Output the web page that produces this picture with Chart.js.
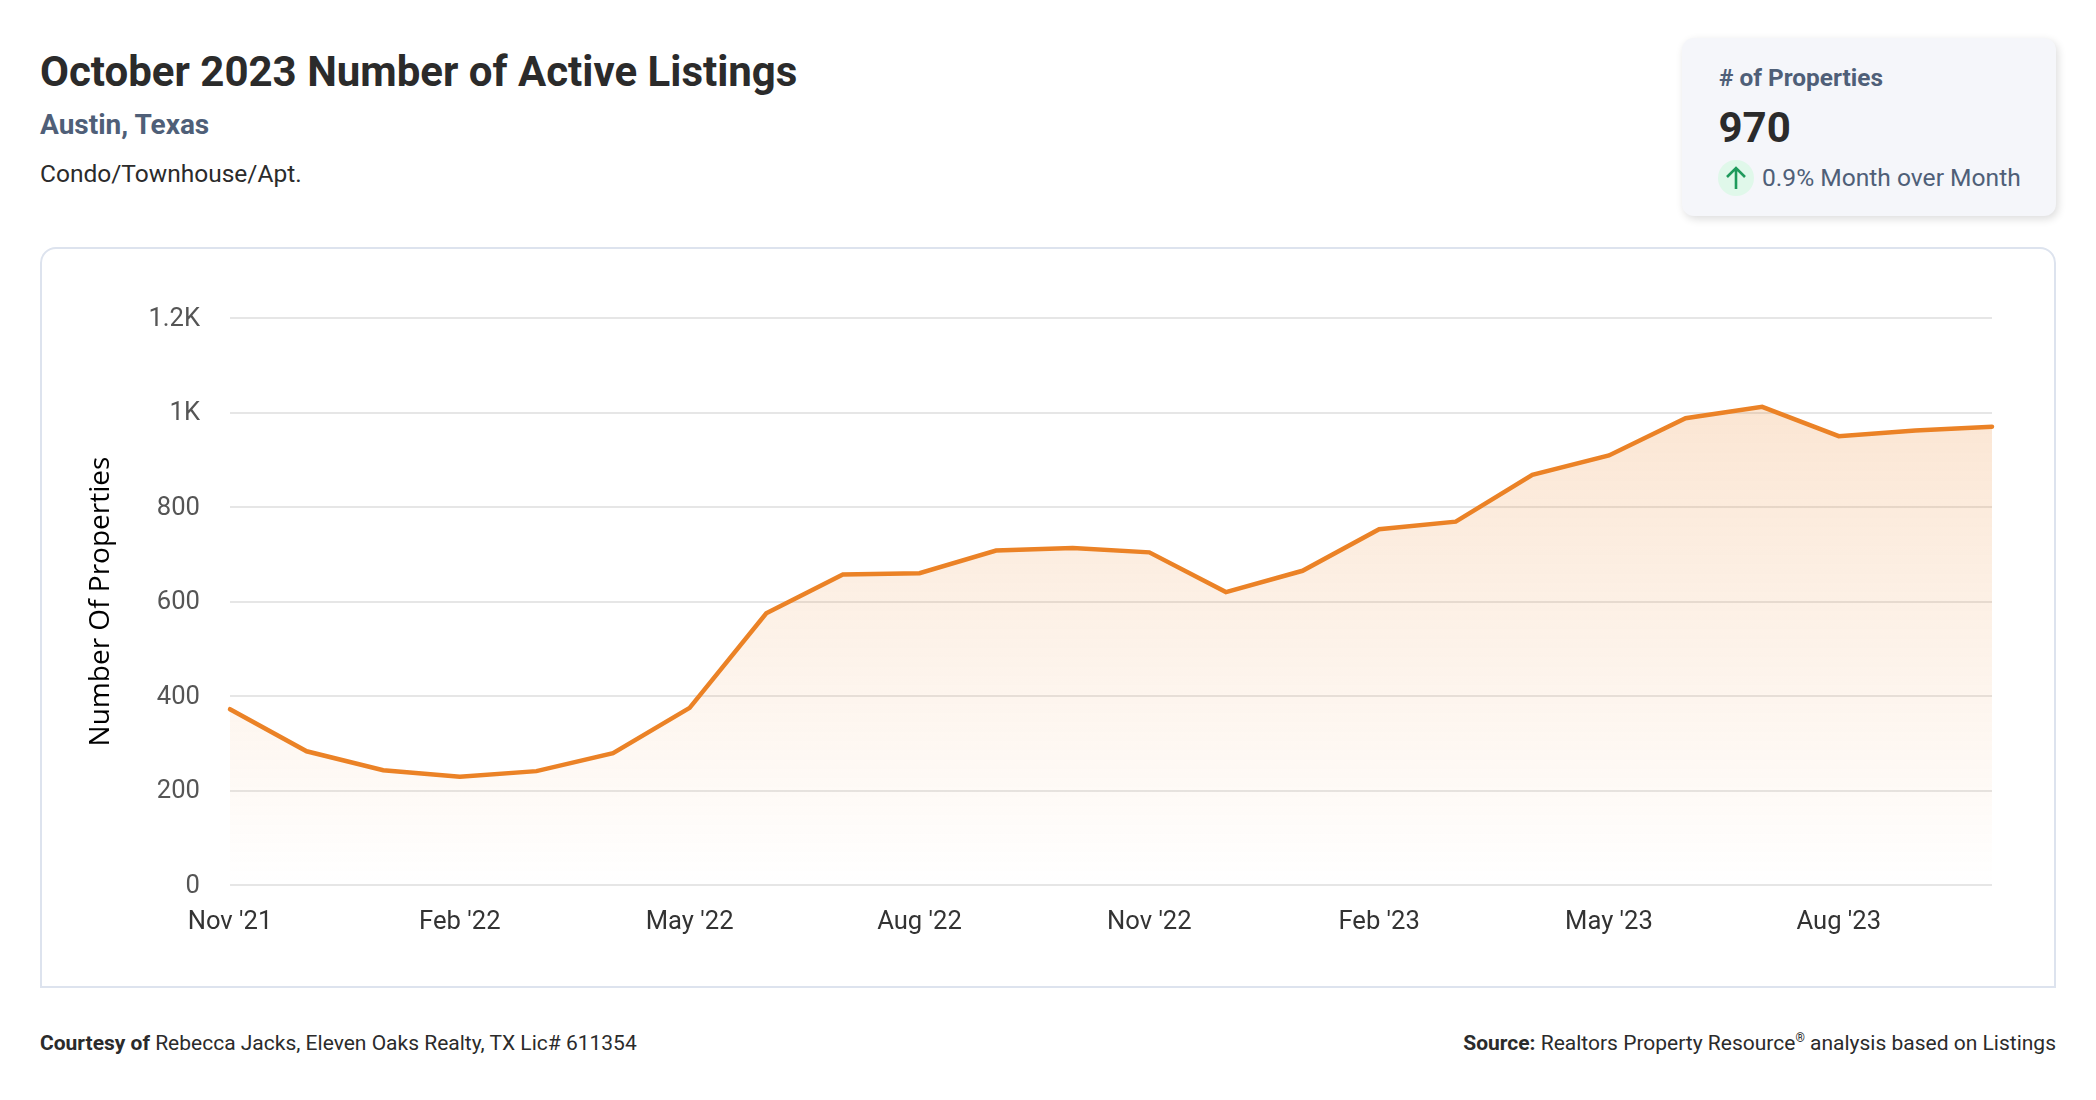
<!DOCTYPE html>
<html>
<head>
<meta charset="utf-8">
<script src="https://cdn.jsdelivr.net/npm/chart.js@4"></script>
<style>
html, body { margin: 0; padding: 0; background: #fff; }
body { width: 2096px; height: 1100px; position: relative; overflow: hidden; font-family: Roboto, sans-serif; color: #2b2b2b; }
.abs { position: absolute; white-space: nowrap; }
#title { left: 40px; top: 46px; font-size: 42px; line-height: 52px; font-weight: 700; }
#place { left: 40px; top: 108px; font-size: 28px; line-height: 34px; font-weight: 700; color: #4f5f78; }
#kind { left: 40px; top: 158px; font-size: 24.5px; line-height: 32px; }
#card { left: 1682px; top: 38px; width: 374px; height: 178px; background: #f5f6fa; border-radius: 12px; box-shadow: 2px 3px 8px rgba(0,0,0,.14); }
#cardLabel { left: 1719px; top: 62px; font-size: 24.4px; line-height: 32px; font-weight: 700; color: #4f5f78; }
#cardValue { left: 1718.5px; top: 103px; font-size: 42px; line-height: 50px; font-weight: 700; }
#cardIcon { left: 1718px; top: 160px; width: 36px; height: 36px; border-radius: 50%; background: #e0f8ea; }
#cardChange { left: 1762px; top: 162px; font-size: 24.6px; line-height: 32px; color: #4f5f78; }
#panel { left: 40px; top: 247px; width: 2012px; height: 737px; border: 2px solid #dde3ee; border-radius: 16px 16px 0 0; }
#chart { position: absolute; left: 40px; top: 247px; }
#courtesy { left: 40px; top: 1030px; font-size: 21px; line-height: 26px; }
#source { right: 40px; top: 1030px; font-size: 21px; line-height: 26px; }
sup { font-size: 12px; line-height: 0; }
</style>
</head>
<body>
<div class="abs" id="title">October 2023 Number of Active Listings</div>
<div class="abs" id="place">Austin, Texas</div>
<div class="abs" id="kind">Condo/Townhouse/Apt.</div>

<div class="abs" id="card"></div>
<div class="abs" id="cardLabel"># of Properties</div>
<div class="abs" id="cardValue">970</div>
<div class="abs" id="cardIcon">
  <svg width="36" height="36" viewBox="0 0 36 36"><path d="M18 29V8M9 17l9-9 9 9" fill="none" stroke="#1f9a5c" stroke-width="2.6"/></svg>
</div>
<div class="abs" id="cardChange">0.9% Month over Month</div>

<div class="abs" id="panel"></div>
<canvas id="chart" width="2016" height="741"></canvas>

<div class="abs" id="courtesy"><b>Courtesy of</b> Rebecca Jacks, Eleven Oaks Realty, TX Lic# 611354</div>
<div class="abs" id="source"><b>Source:</b> Realtors Property Resource<sup>®</sup> analysis based on Listings</div>

<script>
var months = ["Nov '21", "Dec '21", "Jan '22", "Feb '22", "Mar '22", "Apr '22", "May '22", "Jun '22",
  "Jul '22", "Aug '22", "Sep '22", "Oct '22", "Nov '22", "Dec '22", "Jan '23", "Feb '23",
  "Mar '23", "Apr '23", "May '23", "Jun '23", "Jul '23", "Aug '23", "Sep '23", "Oct '23"];
var listings = [372, 283, 243, 229, 241, 279, 375, 575, 657, 660, 708, 713,
  704, 620, 665, 753, 769, 868, 909, 988, 1012, 950, 962, 970];
var yMax = 1200;
var yStep = 200;

var ctx = document.getElementById("chart").getContext("2d");

function areaFill(context) {
  var area = context.chart.chartArea;
  if (!area) return "rgba(235,130,38,0.2)";
  var g = context.chart.ctx.createLinearGradient(0, area.top, 0, area.bottom);
  g.addColorStop(0, "rgba(235,130,38,0.24)");
  g.addColorStop(1, "rgba(235,130,38,0)");
  return g;
}

new Chart(ctx, {
  type: "line",
  data: {
    labels: months,
    datasets: [{
      data: listings,
      borderColor: "#eb8226",
      borderWidth: 4.5,
      borderCapStyle: "round",
      pointRadius: 0,
      tension: 0,
      clip: false,
      fill: true,
      backgroundColor: areaFill
    }]
  },
  options: {
    responsive: false,
    animation: false,
    layout: { padding: { top: 71, right: 64, left: 0, bottom: 0 } },
    plugins: { legend: { display: false }, tooltip: { enabled: false } },
    scales: {
      x: {
        offset: false,
        afterFit: function (scale) { scale.height = 103; },
        grid: { display: false },
        border: { display: false },
        ticks: {
          autoSkip: false,
          maxRotation: 0,
          padding: 14,
          color: "#333333",
          font: { family: "Roboto", size: 25.6 },
          callback: function (v, i) { return i % 3 === 0 ? months[i] : ""; }
        }
      },
      y: {
        min: 0,
        max: yMax,
        afterFit: function (scale) { scale.width = 190; },
        border: { display: false },
        grid: { color: "#e6e6e6", lineWidth: 2, drawTicks: false },
        title: {
          display: true,
          text: "Number Of Properties",
          color: "#000000",
          padding: { top: 44, bottom: 0 },
          font: { family: "Open Sans", size: 28 }
        },
        ticks: {
          stepSize: yStep,
          padding: 30,
          labelOffset: 1.5,
          color: "#555555",
          font: { family: "Roboto", size: 25.6 },
          callback: function (v) { return v >= 1000 ? (v / 1000) + "K" : v; }
        }
      }
    }
  }
});
</script>
</body>
</html>
